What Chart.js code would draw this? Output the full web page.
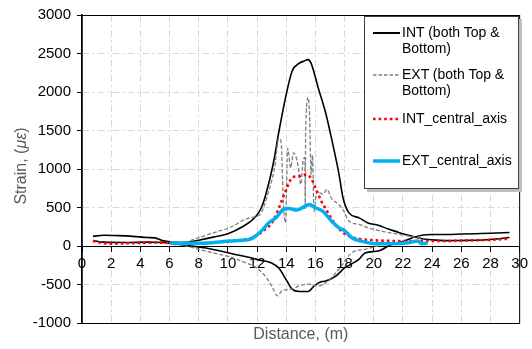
<!DOCTYPE html>
<html>
<head>
<meta charset="utf-8">
<script src="https://cdn.jsdelivr.net/npm/chart.js@4.4.1/dist/chart.umd.min.js"></script>
<style>
  body { margin: 0; background: #fff; }
  #wrap { position: relative; width: 532px; height: 349px; }
  #legend {
    position: absolute; left: 364px; top: 16px; width: 153px; height: 171px;
    border: 1px solid #404040; background: #fff; box-shadow: 3px 3px 0 #bfbfbf;
  }
  .item { position: absolute; left: 8px; font: 14px "Liberation Sans", Arial, sans-serif; color: #000; line-height: 15.5px; }
  .item svg { position: absolute; left: 0; }
  .item span { position: absolute; left: 29px; white-space: nowrap; }
</style>
</head>
<body>
<div id="wrap">
  <canvas id="chart" width="532" height="349"></canvas>
  <div id="legend"></div>
</div>
<script>
// strain along the distance
const intTopX = [0.75, 1.5, 2.5, 3.5, 4.5, 5.0, 5.5, 6.0, 6.7, 7.3, 8.0, 9.0, 10.0, 11.0, 11.9, 12.3, 12.6, 13.1, 13.5, 14.0, 14.4, 14.9, 15.2, 15.5, 15.7, 16.2, 16.7, 17.1, 17.6, 17.9, 18.3, 19.0, 19.6, 20.3, 21.0, 21.5, 22.0, 22.6, 23.3, 24.0, 25.0, 26.0, 27.0, 28.0, 29.3];
const intTopY = [125, 140, 135, 125, 110, 105, 70, 55, 45, 50, 75, 115, 160, 250, 380, 500, 670, 1060, 1490, 1970, 2270, 2375, 2400, 2420, 2375, 2050, 1730, 1400, 950, 620, 430, 365, 300, 270, 220, 190, 160, 130, 95, 80, 70, 72, 75, 85, 110];

const intBotX = [0.75, 1.5, 3.0, 4.5, 5.5, 6.5, 7.5, 8.5, 9.5, 10.5, 11.5, 12.1, 13.0, 13.5, 14.0, 14.4, 14.9, 15.5, 15.9, 16.3, 16.7, 17.4, 18.0, 18.6, 19.0, 19.4, 20.3, 21.2, 22.1, 22.7, 23.3, 24.0, 25.0, 26.0, 27.0, 28.0, 29.3];
const intBotY = [70, 50, 45, 50, 45, 25, 0, -25, -65, -110, -150, -180, -220, -290, -440, -560, -590, -590, -520, -470, -455, -390, -285, -220, -170, -90, -65, 20, 65, 110, 140, 150, 150, 155, 160, 165, 175];

const extTopX = [6.2, 7.0, 8.0, 9.0, 10.1, 11.5, 12.2, 12.8, 13.2, 13.5, 13.65, 13.8, 13.95, 14.1, 14.3, 14.5, 14.8, 15.0, 15.15, 15.28, 15.3, 15.33, 15.5, 15.6, 15.7, 15.8, 15.9, 16.1, 16.5, 16.8, 17.1, 17.6, 17.9, 18.3, 19.0, 19.6, 20.5, 21.5, 22.5, 23.5];
const extTopY = [30, 45, 108, 170, 237, 367, 410, 712, 1015, 1400, 1350, 583, 302, 1270, 1015, 1209, 1058, 800, 1100, 1150, 480, 1450, 1930, 1700, 930, 1180, 450, 712, 670, 734, 620, 540, 470, 324, 280, 237, 194, 160, 125, 95];

const extBotX = [6.2, 7.0, 8.0, 9.0, 10.1, 11.2, 11.8, 12.6, 13.0, 13.4, 13.7, 14.4, 14.9, 15.5, 16.2, 17.1, 17.7, 18.5, 19.4, 20.3];
const extBotY = [20, 5, -43, -90, -140, -216, -265, -400, -518, -648, -583, -561, -518, -496, -518, -410, -281, -86, -43, 0];

const intCenX = [0.75, 1.2, 2.0, 3.0, 4.0, 5.0, 6.0, 7.0, 8.0, 9.0, 10.0, 11.0, 11.7, 12.4, 13.1, 13.5, 13.95, 14.4, 14.9, 15.4, 15.7, 16.1, 16.4, 16.8, 17.2, 17.9, 18.6, 19.3, 20.0, 21.5, 23.7, 25.0, 26.0, 27.0, 28.0, 29.3];
const intCenY = [65, 45, 30, 35, 40, 45, 40, 30, 35, 45, 60, 80, 108, 194, 324, 496, 712, 885, 907, 928, 880, 712, 583, 453, 324, 173, 108, 85, 75, 65, 65, 65, 70, 75, 80, 95];

const extCenX = [6.0, 7.0, 8.0, 9.0, 10.1, 11.0, 11.5, 11.9, 12.4, 12.8, 13.3, 13.8, 14.2, 14.7, 15.1, 15.6, 16.0, 16.5, 17.1, 17.6, 18.0, 18.5, 19.4, 20.1, 21.2, 22.4, 23.0, 23.3, 23.7];
const extCenY = [40, 35, 35, 45, 65, 75, 86, 130, 216, 302, 367, 475, 488, 466, 496, 540, 496, 453, 324, 237, 200, 108, 52, 30, 30, 43, 65, 30, 40];

const xTicks = [0, 2, 4, 6, 8, 10, 12, 14, 16, 18, 20, 22, 24, 26, 28, 30];
const yTicks = [-1000, -500, 0, 500, 1000, 1500, 2000, 2500, 3000];

const legendItems = [
  { text: ["INT (both Top &", "Bottom)"], color: "#000000", width: 2, dash: "", top: 8 },
  { text: ["EXT (both Top &", "Bottom)"], color: "#7f7f7f", width: 1.3, dash: "3.5 2", top: 50 },
  { text: ["INT_central_axis"], color: "#ff0000", width: 2.6, dash: "2.6 3", top: 94 },
  { text: ["EXT_central_axis"], color: "#00b0f0", width: 3.5, dash: "", top: 136 },
];

function pts(xs, ys) {
  return xs.map((x, i) => ({ x: x, y: ys[i] }));
}

const FONT = "'Liberation Sans', Arial, sans-serif";
const gridColor = "#d9d9d9";
const gridDash = [7, 3, 2, 3];

// black frame round the plot area and the y title with an italic part
const framePlugin = {
  id: "frame",
  afterDraw(chart) {
    const { ctx, chartArea: a } = chart;
    ctx.save();
    ctx.strokeStyle = "#000";
    ctx.lineWidth = 1;
    ctx.strokeRect(a.left, a.top + 0.5, a.right - a.left, a.bottom - a.top);
    ctx.restore();

    ctx.save();
    ctx.translate(22, (a.top + a.bottom) / 2 - 3);
    ctx.rotate(-Math.PI / 2);
    ctx.fillStyle = "#595959";
    ctx.textBaseline = "middle";
    const parts = [
      ["Strain, (", "16px " + FONT],
      ["\u03bc\u03b5", "italic 16px " + FONT],
      [")", "16px " + FONT],
    ];
    let total = 0;
    parts.forEach((p) => { ctx.font = p[1]; total += ctx.measureText(p[0]).width; });
    let x = -total / 2;
    parts.forEach((p) => {
      ctx.font = p[1];
      ctx.fillText(p[0], x, 0);
      x += ctx.measureText(p[0]).width;
    });
    ctx.restore();
  },
};

const ctx = document.getElementById("chart").getContext("2d");
const chart = new Chart(ctx, {
  type: "scatter",
  data: {
    datasets: [
      { label: "EXT_central_axis", data: pts(extCenX, extCenY), borderColor: "#00b0f0", borderWidth: 3.5, order: 1 },
      { label: "INT_central_axis", data: pts(intCenX, intCenY), borderColor: "#ff0000", borderWidth: 2.6, borderDash: [2.6, 3], order: 2 },
      { label: "EXT (both Top & Bottom)", data: pts(extTopX, extTopY), borderColor: "#7f7f7f", borderWidth: 1.3, borderDash: [4, 2], tension: 0, order: 3 },
      { label: "EXT bottom", data: pts(extBotX, extBotY), borderColor: "#7f7f7f", borderWidth: 1.3, borderDash: [4, 2], order: 4 },
      { label: "INT (both Top & Bottom)", data: pts(intTopX, intTopY), borderColor: "#000000", borderWidth: 1.6, order: 5 },
      { label: "INT bottom", data: pts(intBotX, intBotY), borderColor: "#000000", borderWidth: 1.6, order: 6 },
    ],
  },
  options: {
    responsive: false,
    animation: false,
    showLine: true,
    layout: { padding: { left: 0, right: 10, top: 13, bottom: 0 } },
    elements: {
      point: { radius: 0 },
      line: { tension: 0.3, cubicInterpolationMode: "monotone", fill: false },
    },
    plugins: { legend: { display: false }, tooltip: { enabled: false } },
    scales: {
      x: {
        type: "linear",
        min: 0,
        max: 30,
        position: { y: 0 },
        afterBuildTicks: (s) => { s.ticks = xTicks.map((v) => ({ value: v })); },
        ticks: { color: "#000", font: { family: FONT, size: 15 }, padding: 4, maxRotation: 0, callback: (v) => String(v) },
        grid: { color: gridColor, tickColor: "#000", tickLength: 5, tickBorderDash: [] },
        border: { color: "#000", width: 1, dash: gridDash },
      },
      x2: {
        type: "linear",
        axis: "x",
        position: "bottom",
        min: 0,
        max: 30,
        ticks: { display: false },
        grid: { display: false },
        border: { display: false },
        title: {
          display: true,
          text: "Distance, (m)",
          color: "#595959",
          font: { family: FONT, size: 16 },
          padding: { top: 0, bottom: 5 },
        },
        afterFit: (s) => { s.height = 26; },
      },
      y: {
        type: "linear",
        min: -1000,
        max: 3000,
        afterBuildTicks: (s) => { s.ticks = yTicks.map((v) => ({ value: v })); },
        ticks: { color: "#000", font: { family: FONT, size: 15 }, padding: 6, callback: (v) => String(v) },
        grid: { color: gridColor, tickColor: "#000", tickLength: 5, tickBorderDash: [] },
        border: { color: "#000", width: 1.5, dash: gridDash },
        afterFit: (s) => { s.width = 82; },
      },
    },
  },
  plugins: [framePlugin],
});

// legend drawn as a boxed list, the way the original shows it
const legend = document.getElementById("legend");
legendItems.forEach((it) => {
  const div = document.createElement("div");
  div.className = "item";
  div.style.top = it.top + "px";
  div.style.height = it.text.length * 15.5 + "px";
  div.innerHTML =
    '<svg width="27" height="8" style="top:' + (15.5 / 2 - 4) + 'px">' +
    '<line x1="0" y1="4" x2="27" y2="4" stroke="' + it.color + '" stroke-width="' + it.width + '"' +
    (it.dash ? ' stroke-dasharray="' + it.dash + '"' : "") + "/></svg>" +
    "<span>" + it.text.map((t) => t.replace(/&/g, "&amp;")).join("<br>") + "</span>";
  legend.appendChild(div);
});
</script>
</body>
</html>
